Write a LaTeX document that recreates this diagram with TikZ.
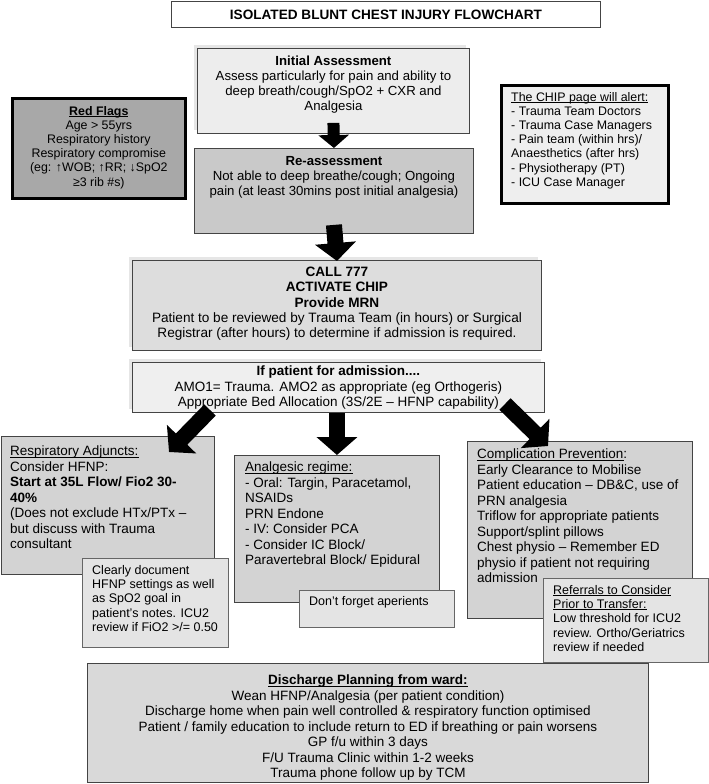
\documentclass[tikz,border=0pt]{standalone}
\usepackage{fontspec}
\setmainfont{Liberation Sans}
\usetikzlibrary{positioning,arrows.meta,shadows}

\definecolor{flaggray}{HTML}{A8A8A8}
\definecolor{alertgray}{HTML}{EEEEEE}
\definecolor{firstgray}{HTML}{EDEDED}
\definecolor{secondgray}{HTML}{C9C9C9}
\definecolor{callgray}{HTML}{DDDDDD}
\definecolor{admitgray}{HTML}{EFEFEF}
\definecolor{stepgray}{HTML}{D3D3D3}
\definecolor{notegray}{HTML}{E4E4E4}
\definecolor{homegray}{HTML}{D9D9D9}
\definecolor{edgegray}{HTML}{444444}
\definecolor{shadegray}{HTML}{E6E6E6}

% underline that sits just under the baseline
\newcommand\undl[1]{\setbox0\hbox{#1}\rlap{\rule[-1.6pt]{\wd0}{0.7pt}}\box0}

\begin{document}
\begin{tikzpicture}[x=1pt,y=-1pt,
        box/.style={draw=edgegray, line width=0.9pt, anchor=north west, inner sep=0pt},
        shadebox/.style={box, drop shadow={shadow xshift=-3pt, shadow yshift=3pt, fill=shadegray, opacity=1}},
        flagbox/.style={box, draw=black, line width=2.6pt},
        notebox/.style={box, draw=black!60, fill=notegray},
        toptxt/.style={inner sep=0pt, align=center, font=\fontsize{13.2}{15}\selectfont},
        txt/.style={inner sep=0pt, align=left, font=\fontsize{13.5}{15.5}\selectfont},
        notetxt/.style={inner sep=0pt, align=left, font=\fontsize{12.5}{14.3}\selectfont},
        smallarrow/.style={line width=12pt, -{Triangle[width=30pt,length=13pt]}},
        bigarrow/.style={line width=16pt, -{Triangle[width=40pt,length=18pt]}}]

        \fill[white] (0,0) rectangle (709,784);
        \useasboundingbox (0,0) rectangle (709,784);

        % top row
        \node[box, fill=white, minimum width=429pt, minimum height=26pt,
              font=\bfseries\fontsize{13.6}{15}\selectfont] (title) at (171,1) {ISOLATED BLUNT CHEST INJURY FLOWCHART};

        \node[shadebox, fill=firstgray, minimum width=272pt, minimum height=85pt] (init) at (197,48) {};
        \node[toptxt, below=8pt of init.north] (inittext) {\textbf{Initial Assessment}\\
            Assess particularly for pain and ability to\\
            deep breath/cough/SpO2 + CXR and\\
            Analgesia};

        \node[flagbox, fill=flaggray, minimum width=173pt, minimum height=100pt] (flags) at (11,97) {};
        \node[toptxt, below=9pt of flags.north, font=\fontsize{12.4}{14.2}\selectfont] (flagstext) {\textbf{\undl{Red Flags}}\\
            Age > 55yrs\\
            Respiratory history\\
            Respiratory compromise\\
            (eg: ↑WOB; ↑RR; ↓SpO2\\
            ≥3 rib \#s)};

        \node[flagbox, fill=alertgray, minimum width=167pt, minimum height=118pt] (chip) at (500,84) {};
        \node[toptxt, align=left, below right=8pt and 11pt of chip.north west,
              font=\fontsize{12.4}{14.2}\selectfont] (chiptext) {\undl{The CHIP page will alert:}\\
            - Trauma Team Doctors\\
            - Trauma Case Managers\\
            - Pain team (within hrs)/\\
            Anaesthetics (after hrs)\\
            - Physiotherapy (PT)\\
            - ICU Case Manager};

        \node[box, fill=secondgray, minimum width=279pt, minimum height=85pt] (reass) at (194,148) {};
        \node[toptxt, below=8pt of reass.north] (reasstext) {\textbf{Re-assessment}\\
            Not able to deep breathe/cough; Ongoing\\
            pain (at least 30mins post initial analgesia)};

        \draw[smallarrow] ([yshift=11pt]init.south) -- (reass.north);

        % middle
        \node[shadebox, fill=callgray, minimum width=409pt, minimum height=90pt] (call) at (132,260) {};
        \node[txt, align=center, below=7pt of call.north, font=\fontsize{13.6}{15.3}\selectfont] (calltext) {\textbf{CALL 777}\\
            \textbf{ACTIVATE CHIP}\\
            \textbf{Provide MRN}\\
            Patient to be reviewed by Trauma Team (in hours) or Surgical\\
            Registrar (after hours) to determine if admission is required.};

        \draw[bigarrow] ([yshift=9pt]reass.south) -- ([yshift=-1pt]call.north);

        \node[shadebox, fill=admitgray, minimum width=412pt, minimum height=50pt] (admit) at (132,362) {};
        \node[txt, align=center, below=4pt of admit.north, font=\fontsize{13.5}{15.3}\selectfont] (admittext) {\textbf{If patient for admission....}\\
            AMO1= Trauma. AMO2 as appropriate (eg Orthogeris)\\
            Appropriate Bed Allocation (3S/2E -- HFNP capability)};

        % three branches
        \node[box, fill=stepgray, minimum width=213pt, minimum height=138pt] (resp) at (1,436) {};
        \node[txt, below right=10pt and 9pt of resp.north west] (resptext) {\undl{Respiratory Adjuncts:}\\
            Consider HFNP:\\
            \textbf{Start at 35L Flow/ Fio2 30-}\\
            \textbf{40\%}\\
            (Does not exclude HTx/PTx --\\
            but discuss with Trauma\\
            consultant};

        \node[box, fill=stepgray, minimum width=205pt, minimum height=147pt] (anal) at (234,455) {};
        \node[txt, below right=7pt and 11pt of anal.north west] (analtext) {\undl{Analgesic regime:}\\
            - Oral: Targin, Paracetamol,\\
            NSAIDs\\
            PRN Endone\\
            - IV: Consider PCA\\
            - Consider IC Block/\\
            Paravertebral Block/ Epidural};

        \node[box, fill=stepgray, minimum width=225pt, minimum height=177pt] (comp) at (467,441) {};
        \node[txt, below right=8pt and 10pt of comp.north west] (comptext) {\undl{Complication Prevention}:\\
            Early Clearance to Mobilise\\
            Patient education -- DB\&C, use of\\
            PRN analgesia\\
            Triflow for appropriate patients\\
            Support/splint pillows\\
            Chest physio -- Remember ED\\
            physio if patient not requiring\\
            admission};

        \coordinate (lefttail) at (210,410);
        \coordinate (lefthead) at (169,452);
        \coordinate (righttail) at (505,404);
        \coordinate (righthead) at (548,446);
        \draw[bigarrow] (lefttail) -- (lefthead);
        \draw[bigarrow] (admit.south -| anal.north) -- (anal.north);
        \draw[bigarrow] (righttail) -- (righthead);

        % notes
        \node[notebox, minimum width=146pt, minimum height=89pt] (hfnp) at (82,558) {};
        \node[notetxt, below right=7pt and 10pt of hfnp.north west] (hfnptext) {Clearly document\\
            HFNP settings as well\\
            as SpO2 goal in\\
            patient's notes. ICU2\\
            review if FiO2 >/= 0.50};

        \node[notebox, minimum width=155pt, minimum height=37pt] (aper) at (299,590) {};
        \node[notetxt, below right=6pt and 10pt of aper.north west] (apertext) {Don't forget aperients};

        \node[notebox, minimum width=165pt, minimum height=84pt] (refer) at (543,578) {};
        \node[notetxt, below right=7pt and 10pt of refer.north west] (refertext) {\undl{Referrals to Consider}\\
            \undl{Prior to Transfer:}\\
            Low threshold for ICU2\\
            review. Ortho/Geriatrics\\
            review if needed};

        % bottom
        \node[box, fill=homegray, minimum width=561pt, minimum height=119pt] (home) at (87,663) {};
        \node[txt, align=center, below=12pt of home.north] (hometext) {\textbf{\undl{Discharge Planning from ward:}}\\
            Wean HFNP/Analgesia (per patient condition)\\
            Discharge home when pain well controlled \& respiratory function optimised\\
            Patient / family education to include return to ED if breathing or pain worsens\\
            GP f/u within 3 days\\
            F/U Trauma Clinic within 1-2 weeks\\
            Trauma phone follow up by TCM};

\end{tikzpicture}
\end{document}
